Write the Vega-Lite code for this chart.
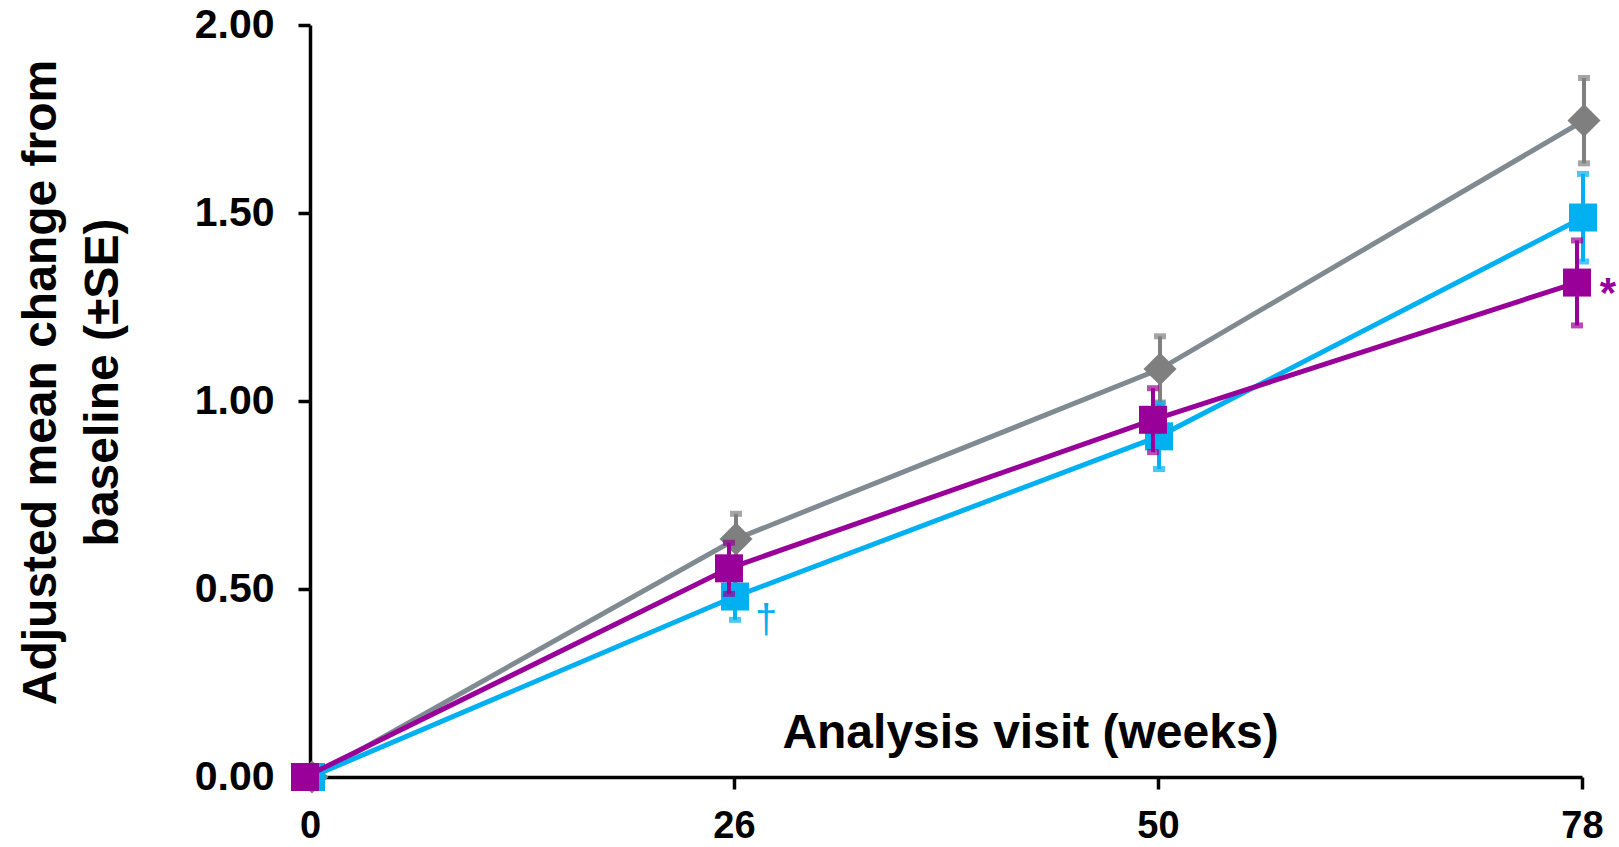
{
  "$schema": "https://vega.github.io/schema/vega-lite/v6.json",
  "autosize": {"type": "none"},
  "width": 1272,
  "height": 752,
  "padding": {"left": 310, "top": 25, "right": 37, "bottom": 70},
  "background": "white",
  "config": {
    "font": "Liberation Sans",
    "view": {"stroke": null},
    "axis": {"grid": false, "domainColor": "black", "tickColor": "black", "labelColor": "black", "titleColor": "black"}
  },
  "data": {
    "values": [
      {"week": 0, "series": "Grey", "mean": 0.0, "lo": null, "hi": null, "note": ""},
      {"week": 26, "series": "Grey", "mean": 0.633, "lo": 0.566, "hi": 0.7, "note": ""},
      {"week": 50, "series": "Grey", "mean": 1.085, "lo": 0.996, "hi": 1.172, "note": ""},
      {"week": 78, "series": "Grey", "mean": 1.746, "lo": 1.632, "hi": 1.859, "note": ""},
      {"week": 0, "series": "Blue", "mean": 0.0, "lo": null, "hi": null, "note": ""},
      {"week": 26, "series": "Blue", "mean": 0.48, "lo": 0.418, "hi": 0.544, "note": "†"},
      {"week": 50, "series": "Blue", "mean": 0.906, "lo": 0.819, "hi": 0.993, "note": ""},
      {"week": 78, "series": "Blue", "mean": 1.488, "lo": 1.371, "hi": 1.604, "note": ""},
      {"week": 0, "series": "Purple", "mean": 0.0, "lo": null, "hi": null, "note": ""},
      {"week": 26, "series": "Purple", "mean": 0.555, "lo": 0.487, "hi": 0.623, "note": ""},
      {"week": 50, "series": "Purple", "mean": 0.95, "lo": 0.864, "hi": 1.034, "note": ""},
      {"week": 78, "series": "Purple", "mean": 1.315, "lo": 1.201, "hi": 1.427, "note": "*"}
    ]
  },
  "encoding": {
    "x": {
      "field": "week", "type": "ordinal",
      "scale": {"type": "point", "padding": 0},
      "axis": {
        "labelAngle": 0, "labelFontSize": 38, "labelFontWeight": "bold", "labelPadding": 18,
        "tickSize": 12, "tickWidth": 3.5, "domainWidth": 3.5,
        "title": "Analysis visit (weeks)", "titleFontSize": 48, "titleFontWeight": "bold",
        "titleX": 720, "titleY": -30, "titleAlign": "center", "titleBaseline": "alphabetic"
      }
    },
    "y": {
      "field": "mean", "type": "quantitative",
      "scale": {"domain": [0, 2], "nice": false},
      "axis": {
        "values": [0, 0.5, 1, 1.5, 2], "format": ".2f",
        "labelFontSize": 41, "labelFontWeight": "bold", "labelPadding": 24,
        "tickSize": 12, "tickWidth": 3.5, "domainWidth": 3.5,
        "title": ["Adjusted mean change from", "baseline (±SE)"],
        "titleFontSize": 48, "titleFontWeight": "bold", "titleLineHeight": 62,
        "titleAngle": -90, "titleX": -255, "titleY": 357, "titleAlign": "center", "titleBaseline": "alphabetic"
      }
    }
  },
  "layer": [
    {
      "transform": [{"filter": "datum.series === 'Grey'"}],
      "layer": [
        {"mark": {"type": "line", "color": "#808b91", "strokeWidth": 5, "xOffset": 2}, "encoding": {}},
        {"mark": {"type": "rule", "color": "#7f7f7f", "strokeWidth": 4, "xOffset": 2}, "encoding": {"y": {"field": "lo", "type": "quantitative"}, "y2": {"field": "hi"}}},
        {"mark": {"type": "tick", "color": "#7f7f7f", "size": 12, "thickness": 6, "xOffset": 2}, "encoding": {"y": {"field": "lo", "type": "quantitative"}}},
        {"mark": {"type": "tick", "color": "#7f7f7f", "size": 12, "thickness": 6, "xOffset": 2}, "encoding": {"y": {"field": "hi", "type": "quantitative"}}},
        {"mark": {"type": "point", "shape": "diamond", "filled": true, "opacity": 1, "size": 1089, "color": "#7f7f7f", "xOffset": 2}, "encoding": {}}
      ]
    },
    {
      "transform": [{"filter": "datum.series === 'Blue'"}],
      "layer": [
        {"mark": {"type": "line", "color": "#00b0f0", "strokeWidth": 5, "xOffset": 1}, "encoding": {}},
        {"mark": {"type": "rule", "color": "#00b0f0", "strokeWidth": 4, "xOffset": 1}, "encoding": {"y": {"field": "lo", "type": "quantitative"}, "y2": {"field": "hi"}}},
        {"mark": {"type": "tick", "color": "#00b0f0", "size": 12, "thickness": 6, "xOffset": 1}, "encoding": {"y": {"field": "lo", "type": "quantitative"}}},
        {"mark": {"type": "tick", "color": "#00b0f0", "size": 12, "thickness": 6, "xOffset": 1}, "encoding": {"y": {"field": "hi", "type": "quantitative"}}},
        {"mark": {"type": "point", "shape": "square", "filled": true, "opacity": 1, "size": 784, "color": "#00b0f0", "xOffset": 1}, "encoding": {}},
        {"transform": [{"filter": "datum.note !== ''"}], "mark": {"type": "text", "color": "#00b0f0", "fontSize": 40, "align": "center", "baseline": "alphabetic", "dx": 32, "dy": 36}, "encoding": {"text": {"field": "note"}}}
      ]
    },
    {
      "transform": [{"filter": "datum.series === 'Purple'"}],
      "layer": [
        {"mark": {"type": "line", "color": "#990099", "strokeWidth": 5, "xOffset": -5}, "encoding": {}},
        {"mark": {"type": "rule", "color": "#990099", "strokeWidth": 4, "xOffset": -5}, "encoding": {"y": {"field": "lo", "type": "quantitative"}, "y2": {"field": "hi"}}},
        {"mark": {"type": "tick", "color": "#990099", "size": 12, "thickness": 6, "xOffset": -5}, "encoding": {"y": {"field": "lo", "type": "quantitative"}}},
        {"mark": {"type": "tick", "color": "#990099", "size": 12, "thickness": 6, "xOffset": -5}, "encoding": {"y": {"field": "hi", "type": "quantitative"}}},
        {"mark": {"type": "point", "shape": "square", "filled": true, "opacity": 1, "size": 784, "color": "#990099", "xOffset": -5}, "encoding": {}},
        {"transform": [{"filter": "datum.note !== ''"}], "mark": {"type": "text", "color": "#990099", "fontSize": 42, "fontWeight": "bold", "align": "center", "baseline": "alphabetic", "dx": 26, "dy": 24}, "encoding": {"text": {"field": "note"}}}
      ]
    }
  ]
}
